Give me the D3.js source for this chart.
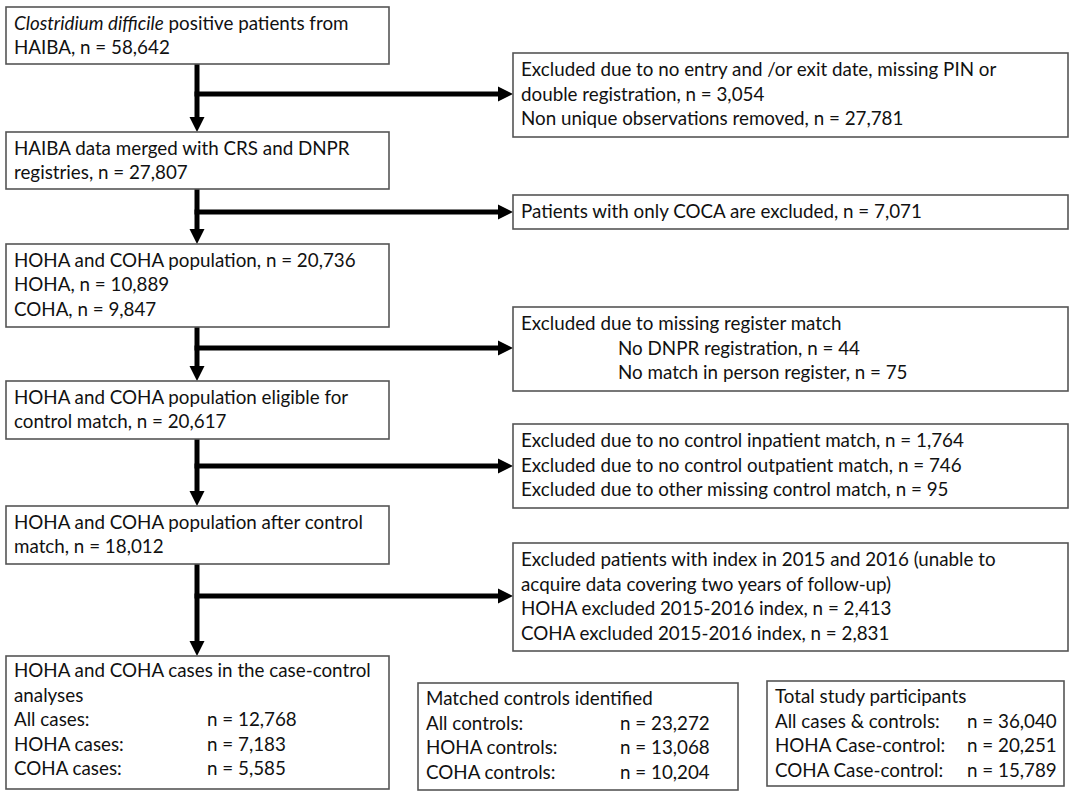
<!DOCTYPE html>
<html>
<head>
<meta charset="utf-8">
<script src="https://cdn.jsdelivr.net/npm/d3@7/dist/d3.min.js"></script>
<style>
  html, body { margin: 0; padding: 0; background: #fff; }
  svg { display: block; }
  text { font-family: Lato, "Open Sans", sans-serif; fill: #111; }
</style>
</head>
<body>
<div id="chart"></div>
<script>
// ---------- DATA ----------
const mainLabels = [
  ["{i}Clostridium difficile{/i} positive patients from", "HAIBA, n = {n}"],
  ["HAIBA data merged with CRS and DNPR", "registries, n = {n}"],
  ["HOHA and COHA population, n = {n}", "HOHA, n = 10,889", "COHA, n = 9,847"],
  ["HOHA and COHA population eligible for", "control match, n = {n}"],
  ["HOHA and COHA population after control", "match, n = {n}"]
];
const mainCounts = [58642, 27807, 20736, 20617, 18012];

const exclusionLabels = [
  ["Excluded due to no entry and /or exit date, missing PIN or", "double registration, n = 3,054", "Non unique observations removed, n = 27,781"],
  ["Patients with only COCA are excluded, n = 7,071"],
  ["Excluded due to missing register match", "\tNo DNPR registration, n = 44", "\tNo match in person register, n = 75"],
  ["Excluded due to no control inpatient match, n = 1,764", "Excluded due to no control outpatient match, n = 746", "Excluded due to other missing control match, n = 95"],
  ["Excluded patients with index in 2015 and 2016 (unable to", "acquire data covering two years of follow-up)", "HOHA excluded 2015-2016 index, n = 2,413", "COHA excluded 2015-2016 index, n = 2,831"]
];

const caseHeader = ["HOHA and COHA cases in the case-control", "analyses"];
const caseLabels = ["All cases:", "HOHA cases:", "COHA cases:"];
const caseCounts = [12768, 7183, 5585];

const controlHeader = ["Matched controls identified"];
const controlLabels = ["All controls:", "HOHA controls:", "COHA controls:"];
const controlCounts = [23272, 13068, 10204];

const totalHeader = ["Total study participants"];
const totalLabels = ["All cases & controls:", "HOHA Case-control:", "COHA Case-control:"];
const totalCounts = [36040, 20251, 15789];

// ---------- LAYOUT ----------
const W = 1074, H = 799;
const fmt = d3.format(",");
const FS = 18.8, LH = 24.6;

const svg = d3.select("#chart").append("svg").attr("width", W).attr("height", H);

const mainBoxes = [
  {x0: 6, x1: 389, y0: 7, y1: 64},
  {x0: 6, x1: 389, y0: 132, y1: 189},
  {x0: 6, x1: 389, y0: 244, y1: 327},
  {x0: 6, x1: 389, y0: 381, y1: 439},
  {x0: 6, x1: 389, y0: 506, y1: 564}
];
const exclBoxes = [
  {x0: 513, x1: 1068, y0: 53, y1: 137},
  {x0: 513, x1: 1068, y0: 195, y1: 229},
  {x0: 513, x1: 1068, y0: 307, y1: 391},
  {x0: 513, x1: 1068, y0: 424, y1: 508},
  {x0: 513, x1: 1068, y0: 543, y1: 651}
];
const branchY = [94, 212, 348, 466, 596];
const caseBox = {x0: 6, x1: 389, y0: 656, y1: 789};
const ctrlBox = {x0: 418, x1: 738, y0: 683, y1: 790};
const totBox  = {x0: 767, x1: 1064, y0: 681, y1: 786};
const spineX = 197;

const boxStroke = "#555";

function drawBox(b) {
  svg.append("rect")
    .attr("x", b.x0).attr("y", b.y0)
    .attr("width", b.x1 - b.x0).attr("height", b.y1 - b.y0)
    .attr("fill", "#fff").attr("stroke", boxStroke).attr("stroke-width", 1.6);
}

function addLine(x, y, str) {
  const t = svg.append("text").attr("x", x).attr("y", y).attr("font-size", FS);
  const parts = str.split(/(\{i\}|\{\/i\})/);
  let italic = false;
  parts.forEach(p => {
    if (p === "{i}") { italic = true; return; }
    if (p === "{/i}") { italic = false; return; }
    if (!p) return;
    t.append("tspan").attr("font-style", italic ? "italic" : null).text(p);
  });
  return t;
}

function boxText(b, lines, firstCenter, indentX) {
  lines.forEach((l, i) => {
    let x = b.x0 + 8, s = l;
    if (s.startsWith("\t")) { x = indentX; s = s.slice(1); }
    addLine(x, firstCenter + i * LH + 6, s);
  });
}

const g = svg.append("g");
function vArrow(x, y0, y1) {
  g.append("line").attr("x1", x).attr("x2", x).attr("y1", y0).attr("y2", y1 - 13)
    .attr("stroke", "#000").attr("stroke-width", 5);
  g.append("path").attr("d", `M${x - 7.5},${y1 - 15} L${x + 7.5},${y1 - 15} L${x},${y1} Z`).attr("fill", "#000");
}
function hArrow(x0, x1, y) {
  g.append("line").attr("x1", x0).attr("x2", x1 - 13).attr("y1", y).attr("y2", y)
    .attr("stroke", "#000").attr("stroke-width", 5);
  g.append("path").attr("d", `M${x1 - 15},${y - 7.5} L${x1 - 15},${y + 7.5} L${x1},${y} Z`).attr("fill", "#000");
}

for (let i = 0; i < mainBoxes.length; i++) {
  const from = mainBoxes[i];
  const to = i < mainBoxes.length - 1 ? mainBoxes[i + 1] : caseBox;
  vArrow(spineX, from.y1, to.y0);
  hArrow(spineX - 2.5, exclBoxes[i].x0, branchY[i]);
}

mainBoxes.forEach((b, i) => {
  drawBox(b);
  const lines = mainLabels[i].map(l => l.replace("{n}", fmt(mainCounts[i])));
  boxText(b, lines, b.y0 + 16.5);
});

exclBoxes.forEach((b, i) => {
  drawBox(b);
  const lines = exclusionLabels[i];
  const first = lines.length === 1 ? (b.y0 + b.y1) / 2 : b.y0 + 17;
  boxText(b, lines, first, 618);
});

function summaryBox(b, header, labels, counts, colX, firstCenter) {
  drawBox(b);
  header.forEach((h, i) => addLine(b.x0 + 8, firstCenter + i * LH + 6, h));
  labels.forEach((l, i) => {
    const y = firstCenter + (header.length + i) * LH + 6;
    addLine(b.x0 + 8, y, l);
    addLine(colX, y, "n = " + fmt(counts[i]));
  });
}
summaryBox(caseBox, caseHeader, caseLabels, caseCounts, 207, caseBox.y0 + 15);
summaryBox(ctrlBox, controlHeader, controlLabels, controlCounts, 620, ctrlBox.y0 + 16);
summaryBox(totBox, totalHeader, totalLabels, totalCounts, 967, totBox.y0 + 16);
</script>
</body>
</html>
